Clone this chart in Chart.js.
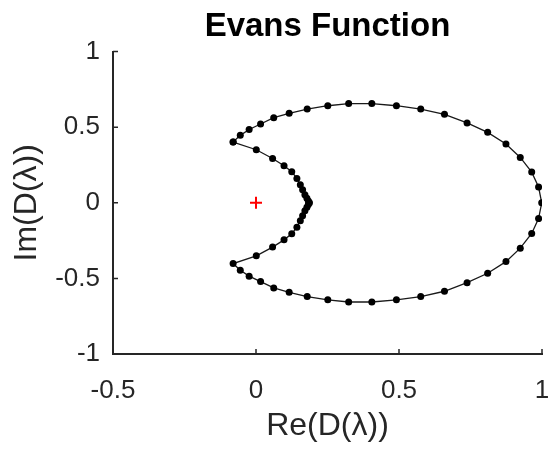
<!DOCTYPE html>
<html>
<head>
<meta charset="utf-8">
<title>Evans Function</title>
<script src="https://cdn.jsdelivr.net/npm/chart.js@4"></script>
<style>
  html, body { margin: 0; padding: 0; background: #fff; }
  #wrap { width: 550px; height: 450px; }
</style>
</head>
<body>
<div id="wrap"><canvas id="evans" width="550" height="450"></canvas></div>
<script>
// contour traced by D(lambda)
var reD = [
  -0.080, -0.055, -0.024, 0.016, 0.062, 0.116, 0.179, 0.251, 0.324, 0.405,
  0.491, 0.576, 0.659, 0.738, 0.810, 0.874, 0.924, 0.964, 0.988, 0.999,
  0.988, 0.964, 0.924, 0.874, 0.810, 0.738, 0.659, 0.576, 0.491, 0.405,
  0.324, 0.251, 0.179, 0.116, 0.062, 0.016, -0.024, -0.055, -0.080,
  0.001, 0.058, 0.098, 0.125, 0.143, 0.155, 0.163, 0.171, 0.178, 0.183, 0.187,
  0.183, 0.178, 0.171, 0.163, 0.155, 0.143, 0.125, 0.098, 0.058, 0.001, -0.080
];
var imD = [
  0.402, 0.446, 0.485, 0.521, 0.563, 0.592, 0.620, 0.642, 0.656, 0.656,
  0.642, 0.620, 0.585, 0.528, 0.466, 0.389, 0.300, 0.203, 0.104, 0.000,
  -0.104, -0.203, -0.300, -0.389, -0.466, -0.528, -0.585, -0.620, -0.642, -0.656,
  -0.656, -0.642, -0.620, -0.592, -0.563, -0.521, -0.485, -0.446, -0.402,
  -0.351, -0.293, -0.245, -0.205, -0.161, -0.119, -0.086, -0.053, -0.030, -0.012, 0.000,
  0.012, 0.030, 0.053, 0.086, 0.119, 0.161, 0.205, 0.245, 0.293, 0.351, 0.402
];
var originX = [0];
var originY = [0];

var xTicks = [-0.5, 0, 0.5, 1];
var yTicks = [-1, -0.5, 0, 0.5, 1];

var axisColor = '#262626';
Chart.defaults.font.family = '"Liberation Sans", Arial, sans-serif';

function toPoints(xs, ys) {
    var pts = [];
    for (var i = 0; i < xs.length; i++) pts.push({ x: xs[i], y: ys[i] });
    return pts;
}

// MATLAB style: tick marks pointing into the axes
var inwardTicks = {
    id: 'inwardTicks',
    afterDraw: function(chart) {
        var ctx = chart.ctx;
        var area = chart.chartArea;
        var len = 5;
        ctx.save();
        ctx.strokeStyle = axisColor;
        ctx.lineWidth = 1.5;
        ctx.beginPath();
        chart.scales.x.ticks.forEach(function(t) {
            var px = chart.scales.x.getPixelForValue(t.value);
            ctx.moveTo(px, area.bottom);
            ctx.lineTo(px, area.bottom - len);
        });
        chart.scales.y.ticks.forEach(function(t) {
            var py = chart.scales.y.getPixelForValue(t.value);
            ctx.moveTo(area.left, py);
            ctx.lineTo(area.left + len, py);
        });
        ctx.stroke();
        ctx.restore();
    }
};

new Chart(document.getElementById('evans').getContext('2d'), {
    type: 'scatter',
    data: {
        datasets: [{
            data: toPoints(reD, imD),
            showLine: true,
            borderColor: '#1a1a1a',
            borderWidth: 1.3,
            pointRadius: 3.5,
            pointBackgroundColor: '#000',
            pointBorderColor: '#000',
            pointBorderWidth: 0
        }, {
            data: toPoints(originX, originY),
            pointStyle: 'cross',
            pointRadius: 6,
            borderColor: '#ff0000',
            borderWidth: 2
        }]
    },
    options: {
        responsive: false,
        animation: false,
        layout: { padding: { left: 0, right: -3, top: 0, bottom: 0 } },
        plugins: {
            legend: { display: false },
            tooltip: { enabled: false },
            title: {
                display: true,
                text: 'Evans Function',
                fullSize: false,
                color: '#000',
                font: { size: 33, weight: 'bold' },
                padding: { top: 7, bottom: 5 }
            }
        },
        scales: {
            x: {
                type: 'linear',
                min: -0.5,
                max: 1,
                afterBuildTicks: function(s) { s.ticks = xTicks.map(function(v) { return { value: v }; }); },
                afterFit: function(s) { s.height = 96; s.paddingLeft = 0; s.paddingRight = 0; },
                grid: { drawOnChartArea: false, drawTicks: false },
                border: { display: true, color: axisColor, width: 2 },
                ticks: {
                    color: axisColor, font: { size: 26 }, padding: 21, maxRotation: 0, autoSkip: false,
                    callback: function(v) { return String(v); }
                },
                title: {
                    display: true,
                    text: 'Re(D(λ))',
                    color: axisColor,
                    font: { size: 32 },
                    padding: { top: 0, bottom: 5 }
                }
            },
            y: {
                type: 'linear',
                min: -1,
                max: 1,
                afterBuildTicks: function(s) { s.ticks = yTicks.map(function(v) { return { value: v }; }); },
                afterFit: function(s) { s.width = 113; s.paddingTop = 0; s.paddingBottom = 0; },
                grid: { drawOnChartArea: false, drawTicks: false },
                border: { display: true, color: axisColor, width: 2 },
                ticks: {
                    color: axisColor, font: { size: 26 }, padding: 13, autoSkip: false,
                    callback: function(v) { return String(v); }
                },
                title: {
                    display: true,
                    text: 'Im(D(λ))',
                    color: axisColor,
                    font: { size: 32 },
                    padding: { top: 8, bottom: 0 }
                }
            }
        }
    },
    plugins: [inwardTicks]
});
</script>
</body>
</html>
